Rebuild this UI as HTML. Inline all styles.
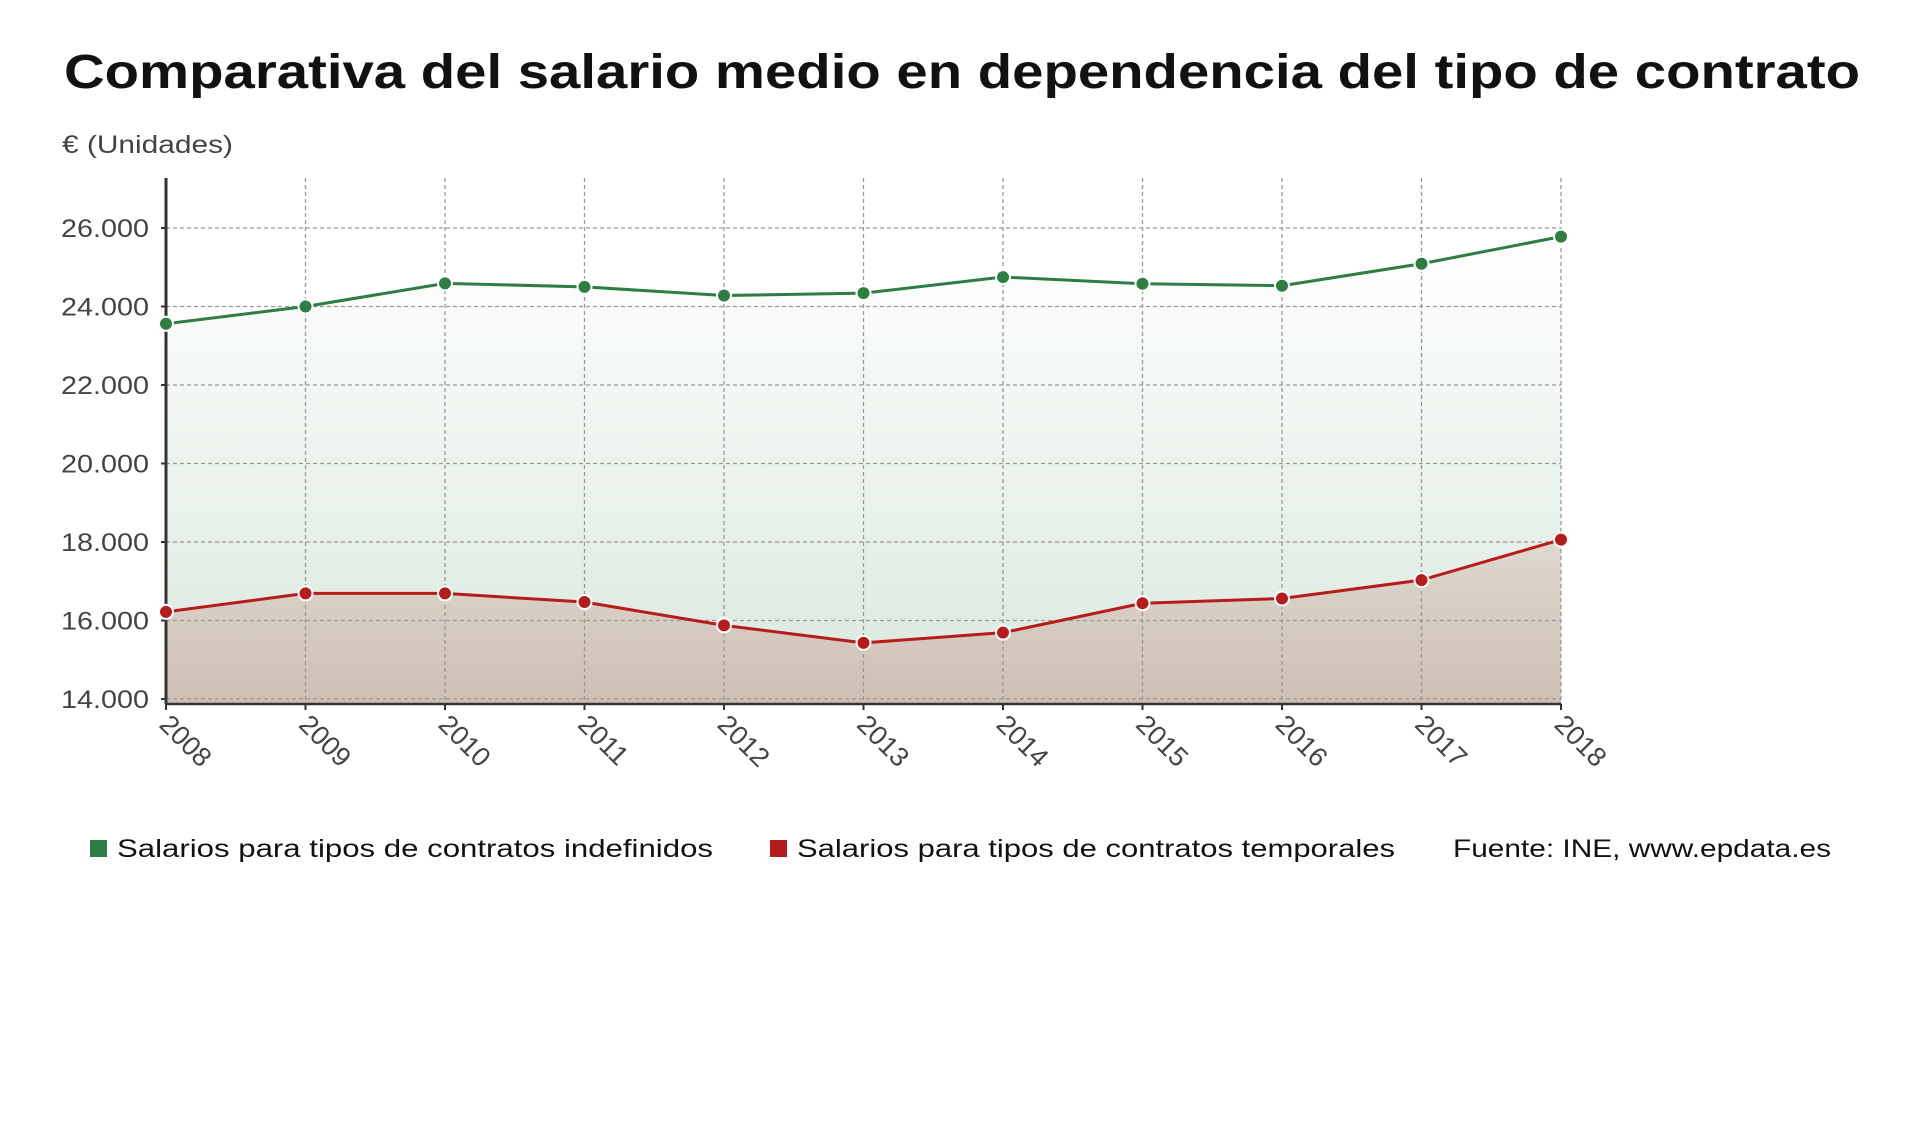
<!DOCTYPE html>
<html><head><meta charset="utf-8"><style>
html,body{margin:0;padding:0;background:#fff;}
svg{display:block;font-family:"Liberation Sans","DejaVu Sans",sans-serif;}
</style></head><body>
<svg id="chart" width="1920" height="1127" viewBox="0 0 1920 1127">
<defs>
<linearGradient id="gGreen" x1="0" y1="0" x2="0" y2="1">
<stop offset="0" stop-color="#ffffff"/><stop offset="1" stop-color="#d9e8dc"/></linearGradient>
<linearGradient id="gRed" x1="0" y1="0" x2="0" y2="1">
<stop offset="0" stop-color="#ddd8ce"/><stop offset="1" stop-color="#cfbfb3"/></linearGradient>
</defs>
<text x="962" y="88" text-anchor="middle" font-size="48" font-weight="bold" fill="#111" textLength="1796" lengthAdjust="spacingAndGlyphs">Comparativa del salario medio en dependencia del tipo de contrato</text>
<text x="62" y="153" font-size="25" fill="#444" textLength="171" lengthAdjust="spacingAndGlyphs">€ (Unidades)</text>
<g id="plot"></g>
<g>
<rect x="90" y="840" width="17" height="17" fill="#2e7d42"/>
<text x="117" y="857" font-size="25" fill="#111" textLength="596" lengthAdjust="spacingAndGlyphs">Salarios para tipos de contratos indefinidos</text>
<rect x="770" y="840" width="17" height="17" fill="#b71c1c"/>
<text x="797" y="857" font-size="25" fill="#111" textLength="598" lengthAdjust="spacingAndGlyphs">Salarios para tipos de contratos temporales</text>
<text x="1453" y="857" font-size="25" fill="#111" textLength="378" lengthAdjust="spacingAndGlyphs">Fuente: INE, www.epdata.es</text>
</g>
</svg>
<script>
const years = ['2008','2009','2010','2011','2012','2013','2014','2015','2016','2017','2018'];
const indefinidos = [23560,24000,24590,24500,24280,24340,24750,24580,24530,25090,25780];
const temporales = [16220,16690,16690,16470,15875,15430,15690,16440,16560,17030,18060];
const yTicks = [14000,16000,18000,20000,22000,24000,26000];
const yTickLabels = ['14.000','16.000','18.000','20.000','22.000','24.000','26.000'];

const NS='http://www.w3.org/2000/svg';
const X0=166, X1=1561, Y14=699, Y26=228, YTOP=178, YAX=704;
const x=i=>X0+(X1-X0)*i/(years.length-1);
const y=v=>Y14+(v-14000)*(Y26-Y14)/12000;
const plot=document.getElementById('plot');
function mk(tag,attrs){const e=document.createElementNS(NS,tag);for(const k in attrs)e.setAttribute(k,attrs[k]);plot.appendChild(e);return e;}

function areaPath(vals){let d='M'+x(0)+','+YAX;vals.forEach((v,i)=>d+=' L'+x(i)+','+y(v));d+=' L'+x(vals.length-1)+','+YAX+' Z';return d;}
let a=mk('path',{d:areaPath(indefinidos),fill:'url(#gGreen)'});


a=mk('path',{d:areaPath(temporales),fill:'url(#gRed)'});



yTicks.forEach((t,i)=>{
 let g=mk('line',{x1:X0,x2:X1,y1:y(t),y2:y(t),stroke:'#999','stroke-width':1.3,'stroke-dasharray':'4,3'});
 
 
 let tk=mk('line',{x1:X0-5,x2:X0,y1:y(t),y2:y(t),stroke:'#333','stroke-width':2});
 
 
 let lb=mk('text',{x:149,y:y(t)+9,'text-anchor':'end','font-size':25,fill:'#444',textLength:88,lengthAdjust:'spacingAndGlyphs'});
 lb.textContent=yTickLabels[i];
 
 
});
years.forEach((yr,i)=>{
 let g=mk('line',{x1:x(i),x2:x(i),y1:YTOP,y2:YAX,stroke:'#999','stroke-width':1.3,'stroke-dasharray':'4,3'});
 
 
 let tk=mk('line',{x1:x(i),x2:x(i),y1:YAX,y2:YAX+6,stroke:'#333','stroke-width':2});
 
 
 let lb=mk('text',{x:x(i)-8,y:YAX+22,'font-size':27,fill:'#444',transform:'rotate(45 '+(x(i)-8)+' '+(YAX+22)+')'});
 lb.textContent=yr;
 
 
});
let ax=mk('line',{x1:X0,x2:X0,y1:YTOP,y2:YAX,stroke:'#333','stroke-width':3});


ax=mk('line',{x1:X0,x2:X1,y1:YAX,y2:YAX,stroke:'#333','stroke-width':2.5});



function series(vals,color,name){
 let l=mk('polyline',{points:vals.map((v,i)=>x(i)+','+y(v)).join(' '),fill:'none',stroke:color,'stroke-width':3});
 
 
 vals.forEach((v,i)=>{
  let c=mk('circle',{cx:x(i),cy:y(v),r:7,fill:color,stroke:'#fff','stroke-width':2});
  
  
 });
}
series(indefinidos,'#2e7d42','indefinidos');
series(temporales,'#b71c1c','temporales');
</script>
</body></html>
